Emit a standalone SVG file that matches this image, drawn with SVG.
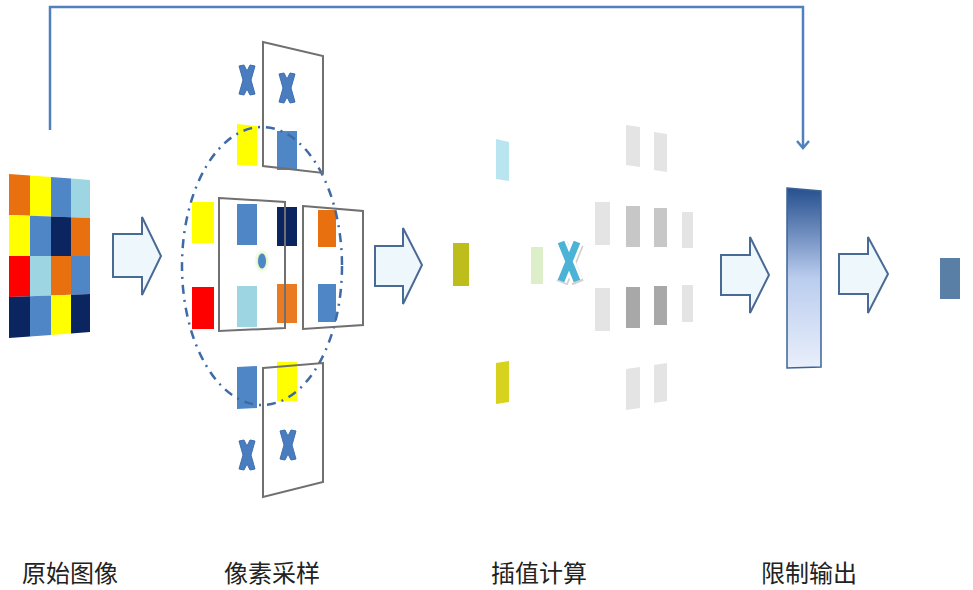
<svg xmlns="http://www.w3.org/2000/svg" width="973" height="590" viewBox="0 0 973 590">
<style>
.lbl{font-family:"Noto Sans CJK SC","Noto Sans",sans-serif;font-size:24px;fill:#222}
.arrow{fill:#EEF7FC;stroke:#4A6A96;stroke-width:2;stroke-linejoin:miter}
.frame{fill:none;stroke:#707070;stroke-width:2}
.or{fill:#E8700F}.ye{fill:#FFFF00}.bl{fill:#4F86C6}.lb{fill:#9DD5E3}.nv{fill:#0B2560}.rd{fill:#FF0000}
.xm{fill:#4A7DC0;stroke:#3F6FAF;stroke-width:1;stroke-linejoin:round}
.g1{fill:#E4E4E4}.g2{fill:#C7C7C7}.g3{fill:#A8A8A8}
.link{fill:none;stroke:#4F81BD;stroke-width:2.5}
</style>
<defs>
<linearGradient id="barGrad" x1="0" y1="0" x2="0" y2="1">
<stop offset="0" stop-color="#26508E"/>
<stop offset="0.3" stop-color="#7D99C8"/>
<stop offset="0.5" stop-color="#BACDEE"/>
<stop offset="1" stop-color="#E9EFFB"/>
</linearGradient>
<radialGradient id="glow">
<stop offset="0.4" stop-color="#D5EFA8"/>
<stop offset="1" stop-color="#FFFFFF" stop-opacity="0"/>
</radialGradient>
<marker id="chev" viewBox="-9 -8 11 16" refX="0" refY="0" markerWidth="11" markerHeight="16" markerUnits="userSpaceOnUse" orient="auto">
<path d="M-7,-6 L0,0 L-7,6" fill="none" stroke="#4F81BD" stroke-width="2.5"/>
</marker>
<path id="xmark" d="M-8,-14 L-3,-15 L0,-9 L3,-15 L8,-14 L4,0 L8,14 L3,15 L0,9 L-3,15 L-8,14 L-4,0 Z"/>
</defs>

<g id="node-original">
<polygon class="or" points="9,174 30,175.6 30,215.8 9,215"/>
<polygon class="ye" points="30,175.6 51,177.1 51,216.6 30,215.8"/>
<polygon class="bl" points="51,177.1 71,178.6 71,217.3 51,216.6"/>
<polygon class="lb" points="71,178.6 90,180 90,218 71,217.3"/>
<polygon class="ye" points="9,215 30,215.8 30,256 9,256"/>
<polygon class="bl" points="30,215.8 51,216.6 51,256 30,256"/>
<polygon class="nv" points="51,216.6 71,217.3 71,256 51,256"/>
<polygon class="or" points="71,217.3 90,218 90,256 71,256"/>
<polygon class="rd" points="9,256 30,256 30,296.2 9,297"/>
<polygon class="lb" points="30,256 51,256 51,295.4 30,296.2"/>
<polygon class="or" points="51,256 71,256 71,294.7 51,295.4"/>
<polygon class="bl" points="71,256 90,256 90,294 71,294.7"/>
<polygon class="nv" points="9,297 30,296.2 30,336.4 9,338"/>
<polygon class="bl" points="30,296.2 51,295.4 51,334.9 30,336.4"/>
<polygon class="ye" points="51,295.4 71,294.7 71,333.4 51,334.9"/>
<polygon class="nv" points="71,294.7 90,294 90,332 71,333.4"/>
<text class="lbl" x="22" y="582">原始图像</text>
</g>

<g id="node-sampling">
<use href="#xmark" class="xm" x="247" y="80"/>
<use href="#xmark" class="xm" x="287" y="88"/>
<use href="#xmark" class="xm" x="247" y="455"/>
<use href="#xmark" class="xm" x="288" y="445"/>
<polygon class="ye" points="237,124 257,126 257,166 237,165"/>
<rect class="bl" x="277" y="131" width="20" height="39"/>
<rect class="ye" x="192" y="202" width="22" height="41"/>
<rect class="bl" x="237" y="204" width="20" height="41"/>
<rect class="nv" x="277" y="207" width="20" height="39"/>
<ellipse cx="262" cy="261" rx="9" ry="14" fill="url(#glow)"/>
<ellipse cx="262" cy="261" rx="4" ry="7.5" fill="#4F86C6"/>
<rect class="rd" x="192" y="287" width="22" height="42"/>
<rect class="lb" x="237" y="286" width="20" height="41"/>
<rect class="or" x="277" y="284" width="20" height="39" opacity="0.92"/>
<rect class="or" x="318" y="210" width="18" height="37"/>
<rect class="bl" x="318" y="284" width="18" height="38"/>
<polygon class="bl" points="237,367 257,366 257,408 237,409"/>
<rect class="ye" x="277" y="362" width="20" height="39"/>
<ellipse cx="262" cy="266" rx="80" ry="139" fill="none" stroke="#3E6AA8" stroke-width="2.5" stroke-dasharray="9 6 2 6"/>
<polygon class="frame" points="263,42 323,56 323,173 263,166"/>
<polygon class="frame" points="219,198 285,202 285,328 219,331"/>
<polygon class="frame" points="303,206 363,211 363,325 303,329"/>
<polygon class="frame" points="263,368 323,363 323,482 263,497"/>
<text class="lbl" x="224" y="582">像素采样</text>
</g>

<g id="node-interp">
<polygon fill="#B9E5F0" points="496,139 509,142 509,181 496,179"/>
<rect fill="#BDBD1C" x="453" y="243" width="16" height="43"/>
<rect fill="#DDEFC8" x="531" y="247" width="12" height="37"/>
<polygon fill="#D6D21E" points="496,363 509,361 509,402 496,404"/>
<g stroke-linecap="butt">
<path d="M562,244 L578,283 M578,244 L562,283" stroke="#D0D0D0" stroke-width="12" fill="none"/>
<path d="M561,242 L577,281 M577,242 L561,281" stroke="#FFFFFF" stroke-width="12" fill="none"/>
<path d="M561,242 L577,281 M577,242 L561,281" stroke="#4BB3D6" stroke-width="7" fill="none"/>
</g>
<polygon class="g1" points="626,125 640,127 640,167 626,165"/>
<polygon class="g1" points="654,132 667,134 667,172 654,170"/>
<rect class="g1" x="595" y="202" width="15" height="43"/>
<rect class="g2" x="626" y="206" width="14" height="41"/>
<rect class="g2" x="654" y="208" width="13" height="39"/>
<rect class="g1" x="682" y="212" width="11" height="36"/>
<rect class="g1" x="595" y="288" width="15" height="43"/>
<rect class="g3" x="626" y="287" width="14" height="41"/>
<rect class="g3" x="654" y="286" width="13" height="39"/>
<rect class="g1" x="682" y="285" width="11" height="37"/>
<polygon class="g1" points="626,369 640,367 640,408 626,410"/>
<polygon class="g1" points="654,365 667,363 667,401 654,403"/>
<text class="lbl" x="491" y="582">插值计算</text>
</g>

<g id="node-limit">
<polygon points="787,188 821,191 821,367 787,368" fill="url(#barGrad)" stroke="#3D6396" stroke-width="1.5"/>
<text class="lbl" x="761" y="582">限制输出</text>
</g>

<g id="node-output">
<rect x="940" y="258" width="20" height="41" fill="#5A7FA6"/>
</g>

<g id="connectors">
<polygon class="arrow" points="113,234 142,234 142,217 161,256 142,295 142,277 113,277"/>
<polygon class="arrow" points="375,246 403,246 403,228 422,265 403,304 403,286 375,286"/>
<polygon class="arrow" points="721,255 750,255 750,237 769,275 750,313 750,295 721,295"/>
<polygon class="arrow" points="839,254 868,254 868,237 888,274 868,313 868,294 839,294"/>
<path class="link" d="M50,130 V7 H803 V148" marker-end="url(#chev)"/>
</g>
</svg>
